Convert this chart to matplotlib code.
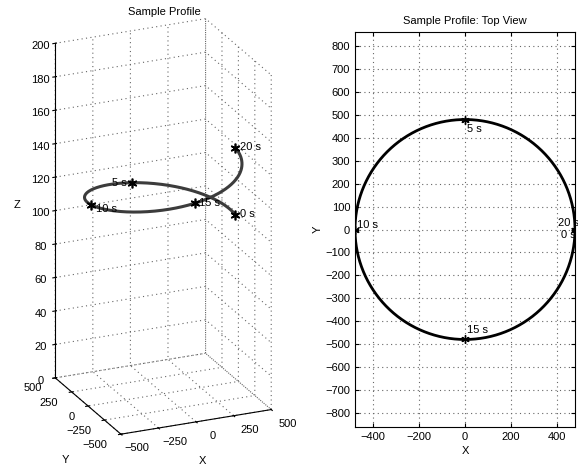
import numpy as np
import matplotlib.pyplot as plt

plt.rcParams['font.family'] = ['Liberation Sans', 'DejaVu Sans']
plt.rcParams['font.size'] = 8
plt.rcParams['grid.linestyle'] = (0, (1, 3))
plt.rcParams['grid.color'] = '#666666'
plt.rcParams['grid.linewidth'] = 0.8

# circular climbing profile
radius = 480.0
period = 20.0
z_start = 100.0
climb_rate = 2.0

mark_t = [0, 5, 10, 15, 20]
mark_x = [480, 0, -480, 0, 480]
mark_y = [0, 480, 0, -480, 0]
mark_z = [100, 110, 120, 130, 140]
mark_labels = ['0 s', '5 s', '10 s', '15 s', '20 s']

xy_ticks = [-500, -250, 0, 250, 500]
z_ticks = list(range(0, 201, 20))

t = np.linspace(0, period, 401)
path_x = radius * np.cos(2 * np.pi * t / period)
path_y = radius * np.sin(2 * np.pi * t / period)
path_z = z_start + climb_rate * t

star = (6, 2, 0)

fig = plt.figure(figsize=(5.78, 4.68), dpi=100)

# 3D view
ax3 = fig.add_axes([0.0, 0.032, 0.55, 0.95], projection='3d')
ax3.set_proj_type('ortho')
ax3.view_init(elev=22, azim=-113.6)
ax3.set_box_aspect((1, 1, 2.2), zoom=1.31)
ax3.plot(path_x, path_y, path_z, color='#3c3c3c', lw=2.2)
ax3.plot(mark_x, mark_y, mark_z, ls='none', marker=star, color='k',
         ms=7, mew=1.2)
offs3 = {'0 s': (30, 0, 0, 'left'), '5 s': (-30, 0, 0, 'right'),
         '10 s': (30, 0, -3, 'left'), '15 s': (30, 0, 0, 'left'),
         '20 s': (30, 0, 0, 'left')}
for x, y, z, lab in zip(mark_x, mark_y, mark_z, mark_labels):
    dx, dy, dz, ha = offs3[lab]
    ax3.text(x + dx, y + dy, z + dz, lab, fontsize=8, ha=ha, va='center')
ax3.set_xlim(-500, 500)
ax3.set_ylim(-500, 500)
ax3.set_zlim(0, 200)
ax3.set_xticks(xy_ticks)
ax3.set_yticks(xy_ticks)
ax3.set_zticks(z_ticks)
ax3.set_xticklabels([])
ax3.set_yticklabels([])
ax3.tick_params(axis='z', pad=0)

# x/y tick labels sit beside the floor edges
for v in xy_ticks:
    ax3.text(v, -750, 0, f'{v}'.replace('-', '\u2212'), fontsize=8,
             ha='center', va='center')
    ax3.text(-590, v, -5, f'{v}'.replace('-', '\u2212'), fontsize=8,
             ha='right', va='center')

ax3.set_xlabel('X', labelpad=-9)
ax3.set_ylabel('Y', labelpad=-3)
ax3.set_zlabel('Z', labelpad=0)
for axis in (ax3.xaxis, ax3.yaxis, ax3.zaxis):
    axis.set_pane_color((1, 1, 1, 0))
    axis.line.set_color('k')
fig.text(164 / 578, 1 - 12 / 468, 'Sample Profile', ha='center',
         va='center', fontsize=8)

# top view
ax2 = fig.add_axes([355 / 578, 41 / 468, 220 / 578, 395 / 468])
ax2.plot(path_x, path_y, color='k', lw=2)
ax2.plot(mark_x, mark_y, ls='none', marker=star, color='k', ms=6, mew=1)
offs2 = {'0 s': (-60, -25), '5 s': (10, -40), '10 s': (10, 20),
         '15 s': (10, 40), '20 s': (-75, 30)}
for x, y, lab in zip(mark_x, mark_y, mark_labels):
    dx, dy = offs2[lab]
    ax2.text(x + dx, y + dy, lab, ha='left', va='center', fontsize=8)
ax2.set_xlim(-480, 480)
ax2.set_ylim(-862, 862)
ax2.set_xticks(range(-400, 401, 200))
ax2.set_yticks(range(-800, 801, 100))
ax2.grid(True)
ax2.tick_params(direction='in', top=True, right=True, length=3)
ax2.set_xlabel('X', labelpad=3)
ax2.set_ylabel('Y', labelpad=2)
ax2.set_title('Sample Profile: Top View', fontsize=8)

fig.savefig('out.png', dpi=100)
